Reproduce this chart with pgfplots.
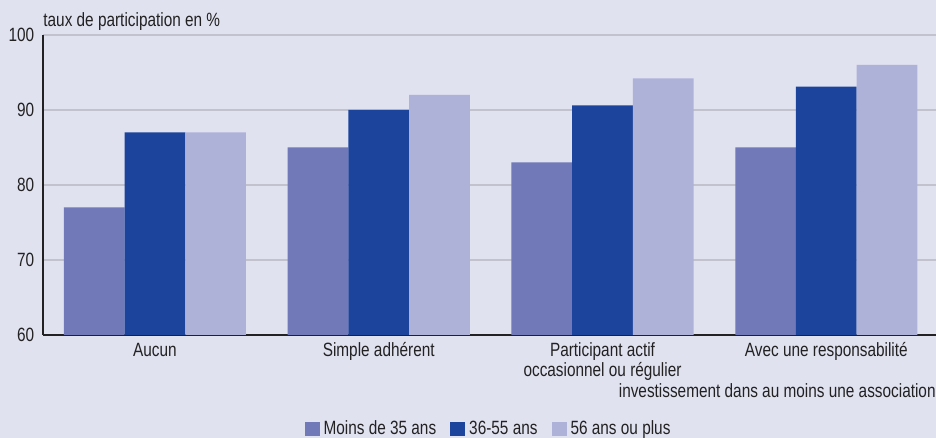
\documentclass[border=0pt]{standalone}
\usepackage{fontspec}
\setmainfont[FakeStretch=0.8]{Liberation Sans}
\usepackage{pgfplots}
\pgfplotsset{compat=1.18}
\definecolor{bg}{HTML}{E0E2F0}
\definecolor{cA}{HTML}{7179B8}
\definecolor{cB}{HTML}{1C449C}
\definecolor{cC}{HTML}{AEB2D8}
\definecolor{gridc}{HTML}{C2C2CC}
\definecolor{txt}{HTML}{222222}
\begin{document}
\fontsize{9.6}{10}\selectfont
\begin{tikzpicture}
\fill[bg] (-21.5pt,-51.5pt) rectangle (446.5pt,167.5pt);
\path[use as bounding box] (-21.5pt,-51.5pt) rectangle (446.5pt,167.5pt);
\begin{axis}[
  at={(0,0)}, anchor=south west, scale only axis,
  width=446.5pt, height=150pt,
  xmin=-0.5, xmax=3.49, ymin=60, ymax=100,
  ytick={60,70,80,90,100},
  xtick={0,1,2,3},
  xticklabels={Aucun,Simple adhérent,{Participant actif\\occasionnel ou régulier},Avec une responsabilité},
  ybar=0pt, bar width=30.35pt,
  axis x line*=bottom, axis y line*=left,
  axis line style={-, txt, line width=1pt},
  ymajorgrids, grid style={gridc, line width=0.8pt},
  major tick length=0pt,
  /pgf/number format/assume math mode=true,
  tick label style={font=\fontsize{9.6}{8.3}\selectfont, text=txt},
  xticklabel style={align=center, yshift=-0.5pt},
  yticklabel style={xshift=-1pt},
  legend style={at={(0.5,-0.313)}, anchor=center, draw=none, fill=none,
    legend columns=3, font=\fontsize{9.6}{10}\selectfont, text=txt,
    /tikz/every even column/.append style={column sep=5pt},
    inner sep=0pt},
  legend image code/.code={\fill[#1] (0pt,-3.5pt) rectangle (7.5pt,3.5pt);},
  clip=true,
]
\addplot[fill=cA, draw=none] coordinates {(0,77) (1,85) (2,83) (3,85)};
\addplot[fill=cB, draw=none] coordinates {(0,87) (1,90) (2,90.6) (3,93.1)};
\addplot[fill=cC, draw=none] coordinates {(0,87) (1,92) (2,94.2) (3,96.0)};
\legend{Moins de 35 ans,36-55 ans,56 ans ou plus}
\end{axis}
\node[anchor=base west, text=txt, inner sep=0pt] at (0pt,154pt) {taux de participation en \%};
\node[anchor=east, text=txt, inner sep=0pt] at (446.5pt,-28pt) {investissement dans au moins une association};
\end{tikzpicture}
\end{document}
